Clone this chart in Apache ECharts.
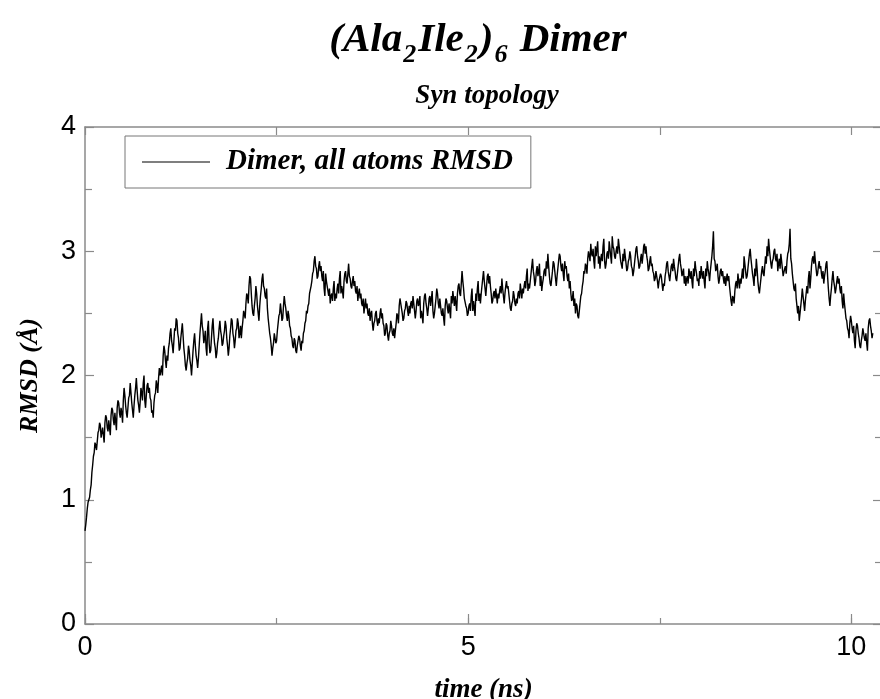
<!DOCTYPE html>
<html>
<head>
<meta charset="utf-8">
<script src="https://cdn.jsdelivr.net/npm/echarts@6/dist/echarts.min.js"></script>
<style>
html,body{margin:0;padding:0;background:#fff;}
#chart{width:880px;height:699px;}
</style>
</head>
<body>
<div id="chart"></div>
<script>
// ---- data ----
const seriesName = 'Dimer, all atoms RMSD';
const timeStep = 0.01; // ns between samples
const rmsd = [
  // 0 - 1 ns
  0.75,0.80,0.86,0.93,0.98,1.00,1.02,1.08,1.12,1.22,1.28,1.35,1.38,1.46,1.44,1.40,1.47,1.54,1.56,1.62,1.60,1.50,1.50,1.58,1.52,
  1.46,1.62,1.68,1.66,1.58,1.55,1.64,1.58,1.52,1.68,1.74,1.72,1.64,1.60,1.70,1.63,1.56,1.74,1.80,1.78,1.70,1.66,1.74,1.70,1.62,
  1.80,1.90,1.84,1.76,1.70,1.66,1.74,1.82,1.84,1.94,1.86,1.78,1.72,1.66,1.76,1.84,1.90,1.98,1.88,1.80,1.76,1.70,1.79,1.90,1.86,
  1.80,1.94,2.00,1.80,1.74,1.84,1.92,1.94,1.86,1.90,1.82,1.80,1.70,1.72,1.66,1.78,1.84,1.86,1.96,1.92,1.86,1.98,2.06,2.00,2.04,
  // 1 - 2 ns
  2.08,2.00,2.16,2.24,2.20,2.12,2.06,2.16,2.12,2.22,2.26,2.34,2.38,2.28,2.24,2.18,2.28,2.38,2.36,2.46,2.44,2.34,2.30,2.20,2.22,
  2.30,2.36,2.42,2.32,2.22,2.16,2.08,2.04,2.10,2.14,2.24,2.20,2.12,2.08,2.00,2.10,2.20,2.28,2.34,2.24,2.16,2.12,2.06,2.14,2.24,
  2.34,2.42,2.50,2.40,2.36,2.26,2.30,2.36,2.22,2.16,2.38,2.44,2.26,2.18,2.20,2.30,2.40,2.46,2.34,2.26,2.22,2.14,2.18,2.26,2.30,
  2.38,2.44,2.36,2.32,2.24,2.26,2.32,2.36,2.44,2.40,2.30,2.24,2.16,2.22,2.32,2.38,2.46,2.44,2.34,2.30,2.22,2.28,2.36,2.38,2.46,
  // 2 - 3 ns
  2.42,2.30,2.34,2.40,2.30,2.38,2.44,2.52,2.52,2.46,2.58,2.66,2.64,2.58,2.72,2.80,2.78,2.66,2.56,2.50,2.48,2.56,2.62,2.72,2.66,
  2.56,2.50,2.44,2.56,2.64,2.70,2.78,2.82,2.72,2.70,2.64,2.62,2.70,2.54,2.46,2.40,2.34,2.30,2.24,2.16,2.22,2.26,2.34,2.34,2.26,
  2.28,2.36,2.42,2.48,2.50,2.58,2.52,2.44,2.46,2.56,2.64,2.58,2.54,2.48,2.44,2.52,2.48,2.40,2.38,2.32,2.30,2.24,2.22,2.30,2.28,
  2.20,2.18,2.24,2.24,2.32,2.30,2.24,2.20,2.28,2.26,2.34,2.36,2.42,2.44,2.52,2.50,2.56,2.58,2.66,2.66,2.72,2.76,2.82,2.84,2.92,
  // 3 - 4 ns
  2.96,2.88,2.86,2.78,2.80,2.88,2.92,2.84,2.88,2.80,2.76,2.84,2.70,2.64,2.82,2.76,2.76,2.68,2.64,2.70,2.58,2.64,2.66,2.60,2.70,
  2.76,2.60,2.66,2.62,2.70,2.74,2.66,2.78,2.84,2.66,2.72,2.68,2.62,2.76,2.82,2.84,2.76,2.74,2.82,2.90,2.80,2.78,2.72,2.70,2.76,
  2.80,2.72,2.76,2.68,2.66,2.72,2.60,2.66,2.70,2.62,2.66,2.58,2.56,2.62,2.50,2.56,2.62,2.54,2.58,2.50,2.48,2.54,2.44,2.50,2.52,
  2.42,2.36,2.42,2.44,2.50,2.52,2.44,2.40,2.46,2.42,2.50,2.54,2.46,2.50,2.42,2.40,2.32,2.34,2.42,2.40,2.32,2.28,2.34,2.36,2.44,
  // 4 - 5 ns
  2.40,2.34,2.32,2.38,2.30,2.36,2.42,2.50,2.48,2.42,2.56,2.62,2.62,2.54,2.50,2.44,2.46,2.52,2.54,2.60,2.58,2.52,2.48,2.56,2.50,
  2.58,2.60,2.54,2.64,2.58,2.52,2.46,2.52,2.60,2.62,2.56,2.58,2.64,2.46,2.52,2.48,2.42,2.58,2.64,2.66,2.58,2.54,2.48,2.54,2.62,
  2.64,2.56,2.62,2.68,2.52,2.46,2.50,2.56,2.62,2.70,2.66,2.58,2.54,2.62,2.56,2.50,2.48,2.54,2.46,2.40,2.56,2.62,2.60,2.54,2.50,
  2.58,2.52,2.46,2.64,2.58,2.68,2.62,2.56,2.64,2.58,2.52,2.66,2.72,2.74,2.66,2.64,2.74,2.84,2.76,2.70,2.62,2.62,2.56,2.54,2.48,
  // 5 - 6 ns
  2.50,2.56,2.58,2.52,2.64,2.70,2.52,2.60,2.54,2.48,2.66,2.60,2.70,2.76,2.60,2.66,2.58,2.66,2.72,2.78,2.84,2.76,2.70,2.64,2.72,
  2.80,2.82,2.74,2.80,2.72,2.66,2.58,2.60,2.66,2.68,2.62,2.70,2.64,2.58,2.66,2.62,2.68,2.72,2.66,2.78,2.70,2.64,2.58,2.66,2.72,
  2.76,2.70,2.72,2.66,2.60,2.54,2.52,2.58,2.60,2.68,2.64,2.58,2.56,2.62,2.58,2.66,2.68,2.62,2.74,2.68,2.62,2.70,2.66,2.72,2.76,
  2.70,2.80,2.86,2.68,2.74,2.70,2.76,2.82,2.88,2.94,2.84,2.80,2.72,2.76,2.84,2.88,2.80,2.84,2.90,2.72,2.80,2.68,2.74,2.78,2.84,
  // 6 - 7 ns
  2.86,2.80,2.92,2.86,2.98,2.88,2.80,2.74,2.72,2.78,2.84,2.92,2.90,2.84,2.78,2.72,2.80,2.86,2.92,2.98,2.96,2.88,2.84,2.90,2.82,
  2.76,2.92,2.86,2.88,2.80,2.76,2.82,2.70,2.76,2.66,2.60,2.62,2.68,2.56,2.62,2.50,2.58,2.56,2.48,2.46,2.52,2.58,2.64,2.66,2.72,
  2.76,2.84,2.82,2.90,2.88,2.82,2.94,3.00,3.00,2.92,3.06,2.98,2.96,3.02,2.92,2.86,3.04,2.96,3.02,3.08,2.90,2.96,2.86,2.94,2.98,
  2.92,3.04,3.10,2.92,2.86,2.90,2.98,3.00,2.94,3.08,3.02,2.96,2.90,3.12,3.04,3.02,2.96,2.94,3.00,3.04,2.98,3.10,3.04,2.98,2.92,
  // 7 - 8 ns
  2.92,2.86,2.98,2.92,3.02,2.96,2.90,2.84,2.86,2.92,2.94,3.00,2.96,2.88,2.86,2.80,2.84,2.90,2.96,3.02,3.04,2.96,2.92,2.86,2.88,
  2.94,2.98,2.90,2.96,3.04,3.06,2.98,3.04,2.96,2.92,2.84,2.86,2.92,2.96,2.88,2.90,2.84,2.82,2.76,2.78,2.84,2.84,2.76,2.70,2.76,
  2.76,2.82,2.80,2.74,2.68,2.74,2.72,2.80,2.84,2.90,2.92,2.84,2.80,2.76,2.82,2.88,2.90,2.84,2.94,2.88,2.84,2.78,2.76,2.82,2.88,
  2.94,2.98,2.90,2.86,2.80,2.80,2.86,2.74,2.80,2.72,2.78,2.80,2.74,2.86,2.82,2.78,2.84,2.76,2.70,2.86,2.80,2.92,2.86,2.82,2.76,
  // 8 - 9 ns
  2.78,2.72,2.84,2.78,2.88,2.82,2.78,2.84,2.76,2.70,2.86,2.80,2.92,2.86,2.82,2.76,2.84,2.90,2.96,3.04,3.16,2.94,2.92,2.84,2.86,
  2.90,2.80,2.74,2.78,2.84,2.86,2.80,2.84,2.78,2.74,2.80,2.72,2.78,2.82,2.76,2.80,2.72,2.66,2.60,2.56,2.64,2.62,2.58,2.68,2.74,
  2.76,2.70,2.82,2.76,2.70,2.78,2.74,2.80,2.86,2.78,2.96,2.90,2.84,2.78,2.80,2.86,2.92,2.98,3.02,2.94,2.88,2.82,2.78,2.72,2.86,
  2.80,2.94,2.86,2.76,2.70,2.66,2.72,2.78,2.84,2.88,2.82,2.80,2.88,2.96,2.90,3.04,2.96,3.10,3.02,2.96,2.90,2.86,2.92,2.94,3.00,
  // 9 - 10 ns
  3.02,2.94,2.92,2.98,2.84,2.90,2.94,2.86,2.98,2.92,2.86,2.80,2.80,2.86,2.88,2.82,2.92,2.98,3.00,3.06,3.18,2.94,2.90,2.82,2.76,
  2.70,2.68,2.74,2.62,2.56,2.50,2.56,2.44,2.50,2.56,2.62,2.70,2.64,2.58,2.52,2.60,2.66,2.72,2.66,2.78,2.84,2.70,2.78,2.88,2.94,
  2.96,2.90,3.00,2.92,2.86,2.80,2.82,2.88,2.92,2.86,2.88,2.82,2.78,2.84,2.74,2.80,2.84,2.90,2.92,2.80,2.70,2.62,2.56,2.64,2.70,
  2.78,2.84,2.76,2.72,2.66,2.70,2.76,2.80,2.74,2.78,2.70,2.66,2.72,2.60,2.54,2.66,2.58,2.52,2.46,2.44,2.38,2.36,2.30,2.42,2.48,
  // 10 - 10.28 ns
  2.44,2.38,2.34,2.40,2.28,2.22,2.36,2.42,2.40,2.34,2.30,2.24,2.22,2.28,2.32,2.38,2.38,2.30,2.28,2.34,2.26,2.20,2.38,2.44,2.46,
  2.40,2.36,2.30,2.34
];
const xLabelTicks = [0, 5, 10];
const yLabelTicks = [0, 1, 2, 3, 4];
const titleParts = ['(Ala', '2', 'Ile', '2', ')', '6', ' Dimer'];
const subtitleText = 'Syn topology';
const xName = 'time (ns)';
const yName = 'RMSD (Å)';

// ---- chart ----
const chart = echarts.init(document.getElementById('chart'), null, {renderer: 'canvas'});
const serif = '"Liberation Serif", "DejaVu Serif", serif';
const sans = '"Liberation Sans", Arial, sans-serif';
const axisGray = '#8a8a8a';
const data = rmsd.map((v, i) => [+(i * timeStep).toFixed(2), v]);
const titleRich = titleParts.map((p, i) => (i % 2 === 0 ? '{m|' + p + '}' : '{s|' + p + '}')).join('');
const gridRect = {left: 85, top: 127, width: 797, height: 497, containLabel: false, outerBoundsMode: 'none'};
const X_MAX = 10.4;

function axisBase(extra) {
  return Object.assign({
    type: 'value',
    axisLine: {show: true, onZero: false, lineStyle: {color: axisGray, width: 1.5}},
    axisTick: {show: true, inside: true, length: 8, lineStyle: {color: axisGray, width: 1.2}},
    minorTick: {show: false},
    splitLine: {show: false},
    minorSplitLine: {show: false},
    axisLabel: {show: false}
  }, extra);
}

const italicBold = {fontFamily: serif, fontWeight: 'bold', fontStyle: 'italic', color: '#000'};

const option = {
  animation: false,
  backgroundColor: '#ffffff',
  grid: [Object.assign({}, gridRect), Object.assign({}, gridRect)],
  legend: {
    show: true,
    left: 125, top: 136,
    data: [{name: seriesName, icon: 'rect'}],
    itemWidth: 68, itemHeight: 1,
    padding: [11, 18, 11, 17],
    borderColor: '#777', borderWidth: 1,
    selectedMode: false,
    textStyle: Object.assign({}, italicBold, {fontSize: 29, padding: [0, 0, 0, 11], lineHeight: 30})
  },
  graphic: [
    {type: 'text', x: 478, y: 20, style: {text: titleRich, align: 'center', verticalAlign: 'top',
      rich: {
        m: {fontFamily: serif, fontWeight: 'bold', fontStyle: 'italic', fontSize: 41, lineHeight: 44, verticalAlign: 'top', fill: '#000'},
        s: {fontFamily: serif, fontWeight: 'bold', fontStyle: 'italic', fontSize: 26, lineHeight: 26, padding: [22, 2, 0, 1], verticalAlign: 'top', fill: '#000'}
      }}},
    {type: 'text', x: 487, y: 83, style: {text: subtitleText, align: 'center', verticalAlign: 'top',
      fontFamily: serif, fontWeight: 'bold', fontStyle: 'italic', fontSize: 27, fill: '#000'}}
  ],
  xAxis: [
    axisBase({
      gridIndex: 0, position: 'bottom', min: 0, max: X_MAX, interval: 2.5,
      axisTick: {show: true, inside: true, length: 6, lineStyle: {color: axisGray, width: 1.2}},
      name: xName, nameLocation: 'middle', nameGap: 53,
      nameTextStyle: Object.assign({}, italicBold, {fontSize: 27}),
      axisLabel: {show: true, margin: 10, fontFamily: sans, fontSize: 27, color: '#000', showMaxLabel: false,
        formatter: v => (xLabelTicks.indexOf(v) >= 0 ? String(v) : '')}
    }),
    axisBase({gridIndex: 0, position: 'top', min: 0, max: X_MAX, interval: 2.5}),
    // longer ticks at the labelled positions
    axisBase({gridIndex: 1, position: 'bottom', min: 0, max: X_MAX, interval: 5,
      axisLine: {show: false, onZero: false},
      axisTick: {show: true, inside: true, length: 10, lineStyle: {color: axisGray, width: 1.2}}})
  ],
  yAxis: [
    axisBase({
      gridIndex: 0, position: 'left', min: 0, max: 4, interval: 1,
      axisTick: {show: true, inside: true, length: 9, lineStyle: {color: axisGray, width: 1.2}},
      minorTick: {show: true, splitNumber: 2, length: 7, lineStyle: {color: axisGray, width: 1.2}},
      name: yName, nameLocation: 'middle', nameGap: 42, nameRotate: 90,
      nameTextStyle: Object.assign({}, italicBold, {fontSize: 26}),
      axisLabel: {show: true, margin: 9, fontFamily: sans, fontSize: 27, color: '#000',
        formatter: v => (yLabelTicks.indexOf(v) >= 0 ? String(v) : '')}
    }),
    axisBase({
      gridIndex: 0, position: 'right', min: 0, max: 4, interval: 1,
      axisTick: {show: true, inside: true, length: 9, lineStyle: {color: axisGray, width: 1.2}},
      minorTick: {show: true, splitNumber: 2, length: 7, lineStyle: {color: axisGray, width: 1.2}}
    }),
    axisBase({gridIndex: 1, position: 'left', min: 0, max: 4, show: false})
  ],
  series: [{
    name: seriesName,
    type: 'line',
    xAxisIndex: 0, yAxisIndex: 0,
    data: data,
    showSymbol: false,
    symbol: 'none',
    sampling: false,
    lineStyle: {color: '#000', width: 1.4},
    itemStyle: {color: '#000'},
    emphasis: {disabled: true}
  }]
};
chart.setOption(option);
</script>
</body>
</html>
